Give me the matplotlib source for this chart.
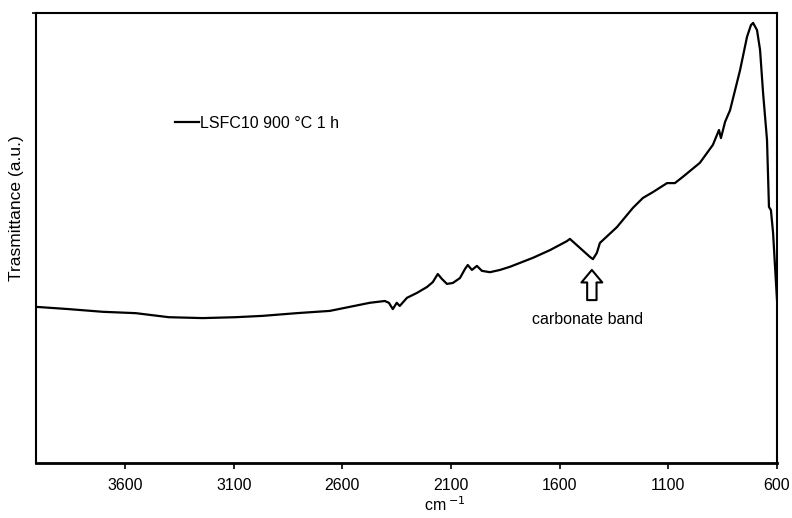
import matplotlib
matplotlib.use("Agg")
import matplotlib.pyplot as plt

plt.rcParams['font.family'] = ['Liberation Sans', 'DejaVu Sans']

wavenumber = [4010, 3860, 3703, 3551, 3399, 3243, 3091, 2966, 2810, 2658, 2566, 2474,
              2405, 2386, 2368, 2350, 2336, 2303, 2257, 2211, 2184, 2161, 2142, 2119,
              2092, 2059, 2036, 2023, 2004, 1981, 1958, 1921, 1875, 1829, 1723, 1645,
              1567, 1553, 1507, 1461, 1447, 1429, 1415, 1337, 1263, 1217, 1171, 1106,
              1070, 1033, 955, 895, 867, 858, 839, 816, 770, 738, 720, 710, 692, 678,
              664, 646, 637, 628, 618, 609, 600]
transmittance = [34.7, 34.2, 33.6, 33.3, 32.4, 32.2, 32.4, 32.7, 33.3, 33.8, 34.7, 35.6,
                 36.0, 35.6, 34.2, 35.6, 34.9, 36.7, 37.8, 39.1, 40.2, 42.0, 40.9, 39.8,
                 40.0, 41.1, 43.1, 44.0, 42.9, 43.8, 42.7, 42.4, 42.9, 43.6, 45.6, 47.3,
                 49.3, 49.8, 47.8, 45.8, 45.3, 46.7, 48.9, 52.4, 56.7, 58.9, 60.2, 62.2,
                 62.2, 63.6, 66.7, 70.7, 74.0, 72.2, 75.8, 78.4, 87.3, 94.7, 97.3, 97.8,
                 96.2, 91.8, 82.2, 71.8, 56.9, 56.2, 51.1, 43.6, 36.2]
xticks = [3600, 3100, 2600, 2100, 1600, 1100, 600]
series_label = "LSFC10 900 °C 1 h"
band_x = 1452
band_tip = 42.9
band_tail = 36.2
band_label = "carbonate band"

fs = 11.5
fig = plt.figure(figsize=(7.92, 5.18), dpi=100)
ax = fig.add_axes([36/792, 55/518, 741/792, 450/518])
line, = ax.plot(wavenumber, transmittance, color='black', lw=1.6, label=series_label)
ax.set_xlim(4010, 600)
ax.set_ylim(0, 100)
ax.set_xticks(xticks)
ax.set_xticklabels([str(t) for t in xticks], fontsize=fs)
ax.set_yticks([100])
ax.set_yticklabels([''])
ax.tick_params(axis='x', direction='out', length=4, width=1.2, pad=7)
ax.tick_params(axis='y', direction='out', length=3, width=1.2)
for s in ax.spines.values():
    s.set_linewidth(1.5)
ax.spines['bottom'].set_linewidth(2)

ax.legend(loc='center left', bbox_to_anchor=(139/741, 340/450), frameon=False,
          handlelength=1.5, handletextpad=0.05, borderpad=0, borderaxespad=0, fontsize=fs)

ax.annotate('', xy=(band_x, band_tip), xytext=(band_x, band_tail),
            arrowprops=dict(arrowstyle='simple,head_length=0.6,head_width=1.0,tail_width=0.45',
                            fc='white', ec='black', lw=1.5, mutation_scale=15,
                            shrinkA=0, shrinkB=0))
ax.text(1470, 31.8, band_label, ha='center', va='center', fontsize=fs)

fig.text(17/792, 1 - 208/518, "Trasmittance (a.u.)", rotation=90, ha='center', va='center', fontsize=12.5)
fig.text(445/792, 1 - 505/518, "cm$\\,^{-1}$", ha='center', va='center', fontsize=11.5)

fig.savefig("out.png", dpi=100)
